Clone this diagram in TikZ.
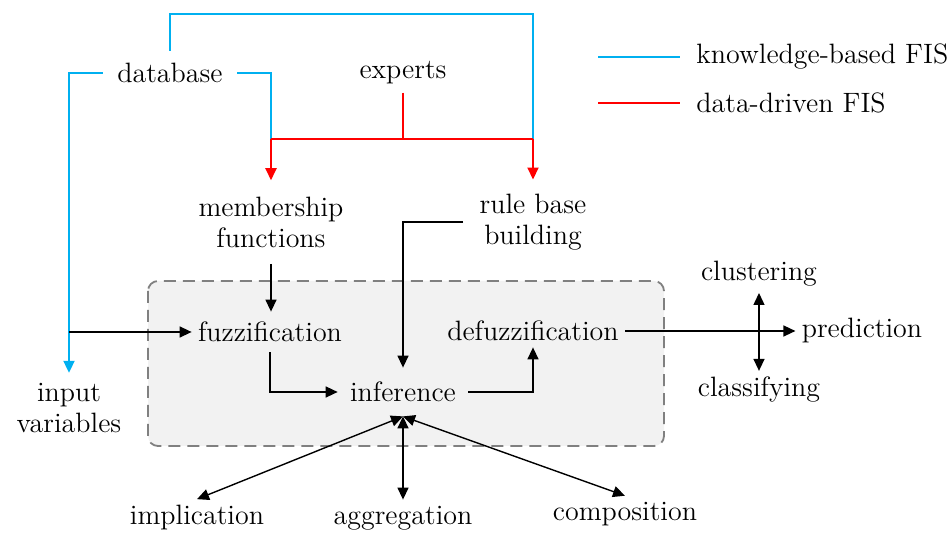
\documentclass[tikz,border=0pt]{standalone}
\usetikzlibrary{arrows.meta}

\definecolor{kbblue}{HTML}{00B0F0}
\definecolor{ddred}{HTML}{FF0000}
\definecolor{boxgray}{HTML}{F2F2F2}
\definecolor{boxline}{HTML}{808080}

\tikzset{
  txt/.style={font=\fontsize{14}{15.5}\selectfont, align=center, inner sep=3pt},
  flow/.style={black, line width=0.7pt, -{Triangle[length=6pt,width=5.5pt]}},
  both/.style={black, line width=0.7pt, {Triangle[length=6pt,width=5.5pt]}-{Triangle[length=6pt,width=5.5pt]}},
  kb/.style={kbblue, line width=1pt},
  dd/.style={ddred, line width=1pt}
}

\begin{document}
\begin{tikzpicture}[x=0.5pt,y=-0.5pt]
\useasboundingbox (0,0) rectangle (950,534);

% processing block
\draw[boxline, fill=boxgray, line width=0.9pt, dash pattern=on 6pt off 3.5pt, rounded corners=5pt] (148,281) rectangle (664,446);

% sources
\node[txt, inner xsep=7pt, inner ysep=6pt] (db) at (170,73) {database};
\node[txt, inner ysep=4pt] (ex) at (403,73) {experts};

% legend
\node[txt, anchor=west] (kbl) at (690,57) {knowledge-based FIS};
\node[txt, anchor=west] (ddl) at (690,103) {data-driven FIS};
\draw[kb] (598,57) -- (680,57);
\draw[dd] (598,103) -- (680,103);

% knowledge nodes
\node[txt, inner ysep=8pt] (mf) at (271,222) {membership\\functions};
\node[txt, inner xsep=8pt, inner ysep=7pt] (rb) at (533,222) {rule base\\building};

% inner steps
\node[txt, inner ysep=5pt] (fz) at (270,332) {fuzzification};
\node[txt] (df) at (533,331) {defuzzification};
\node[txt, inner xsep=6pt, inner ysep=7pt] (inf) at (403,392) {inference};

% input and outputs
\node[txt, inner ysep=5pt] (iv) at (69,408) {input\\variables};
\node[txt] (pr) at (862,331) {prediction};
\node[txt] (cl) at (759,274) {clustering};
\node[txt] (cs) at (759,390) {classifying};

% operators
\node[txt] (im) at (197,518) {implication};
\node[txt] (ag) at (403,518) {aggregation};
\node[txt] (co) at (625,514) {composition};

\coordinate (jl) at (271,139);
\coordinate (jr) at (533,139);
\coordinate (tr) at (533,14);
\coordinate (split) at (iv.north |- fz.west);

% knowledge-based paths
\draw[kb, -{Triangle[length=6pt,width=5.5pt]}] (db.west) -| (iv.north);
\draw[kb] (db.east) -| (jl);
\draw[kb] (db.north) |- (tr) -- (jr);

% data-driven paths
\draw[dd] (ex.south) -- (ex.south |- jl);
\draw[dd] (jl) -- (jr);
\draw[dd, -{Triangle[length=6pt,width=5.5pt]}] (jl) -- (mf.north);
\draw[dd, -{Triangle[length=6pt,width=5.5pt]}] (jr) -- (rb.north);

% main flow
\draw[flow] (split) -- (fz.west);
\draw[flow] (mf.south) -- (fz.north -| mf.south);
\draw[flow] (rb.west) -| (inf.north);
\draw[flow] (fz.south) |- (inf.west);
\draw[flow] (inf.east) -| (df.south);
\draw[flow] (df.east) -- (pr.west);
\draw[both] (cl.south) -- (cs.north);

% operators of the inference
\draw[both] (inf.south) -- (im.north);
\draw[both] (inf.south) -- (ag.north);
\draw[both] (inf.south) -- (co.north);

\end{tikzpicture}
\end{document}
